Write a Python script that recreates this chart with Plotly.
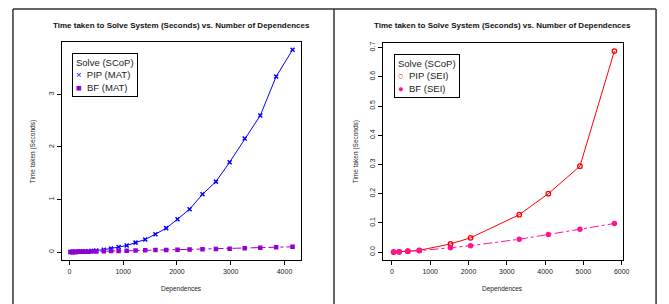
import plotly.graph_objects as go

# ---- data ----
mat_deps = [20, 45, 70, 100, 130, 165, 205, 250, 300, 350, 410, 500, 640, 775, 915,
            1065, 1230, 1410, 1600, 1800, 2010, 2235, 2475, 2725, 2980, 3260, 3550, 3845, 4150]
pip_mat = [0.001, 0.002, 0.003, 0.004, 0.005, 0.007, 0.009, 0.011, 0.014, 0.017, 0.022, 0.03,
           0.045, 0.065, 0.095, 0.125, 0.18, 0.24, 0.34, 0.455, 0.625, 0.815, 1.10, 1.34, 1.71,
           2.16, 2.60, 3.34, 3.85]
bf_mat = [0.0005, 0.001, 0.0017, 0.0024, 0.003, 0.004, 0.005, 0.006, 0.007, 0.008, 0.01, 0.012,
          0.015, 0.018, 0.021, 0.025, 0.029, 0.033, 0.037, 0.041, 0.046, 0.05, 0.055, 0.06, 0.065,
          0.072, 0.08, 0.092, 0.10]

sei_deps = [45, 190, 415, 715, 1530, 2055, 3325, 4085, 4910, 5810]
pip_sei = [0.0, 0.001, 0.003, 0.006, 0.028, 0.049, 0.128, 0.200, 0.294, 0.688]
bf_sei = [0.0, 0.001, 0.003, 0.005, 0.015, 0.022, 0.044, 0.060, 0.078, 0.098]

x_ticks_mat = [0, 1000, 2000, 3000, 4000]
y_ticks_mat = [0, 1, 2, 3]
x_ticks_sei = [0, 1000, 2000, 3000, 4000, 5000, 6000]
y_ticks_sei = [0.0, 0.1, 0.2, 0.3, 0.4, 0.5, 0.6, 0.7]
y_ticktext_sei = ["0.0", "0.1", "0.2", "0.3", "0.4", "0.5", "0.6", "0.7"]

title_text = "Time taken to Solve System (Seconds) vs. Number of Dependences"
legend_title = "Solve (SCoP)"

C_PIP_MAT = "#0000FF"
C_BF_MAT = "#9400D3"
C_PIP_SEI = "#FF0000"
C_BF_SEI = "#FF1493"

OFF = 8  # page body margin
W, H = 669 - OFF, 304 - OFF
FONT = "Liberation Sans, Arial, Helvetica, sans-serif"

fig = go.Figure()
fig.add_trace(go.Scatter(x=mat_deps, y=pip_mat, name="PIP (MAT)", mode="lines+markers",
                         line=dict(color=C_PIP_MAT, width=1),
                         marker=dict(symbol="x-thin-open", size=4, line=dict(color=C_PIP_MAT, width=1.5)),
                         xaxis="x", yaxis="y"))
fig.add_trace(go.Scatter(x=mat_deps, y=bf_mat, name="BF (MAT)", mode="lines+markers",
                         line=dict(color=C_BF_MAT, width=1, dash="dashdot"),
                         marker=dict(symbol="square", size=4.5, color=C_BF_MAT),
                         xaxis="x", yaxis="y"))
fig.add_trace(go.Scatter(x=sei_deps, y=pip_sei, name="PIP (SEI)", mode="lines+markers",
                         line=dict(color=C_PIP_SEI, width=1),
                         marker=dict(symbol="circle-open", size=4.5, line=dict(color=C_PIP_SEI, width=1.3)),
                         xaxis="x2", yaxis="y2"))
fig.add_trace(go.Scatter(x=sei_deps, y=bf_sei, name="BF (SEI)", mode="lines+markers",
                         line=dict(color=C_BF_SEI, width=1, dash="dashdot"),
                         marker=dict(symbol="circle", size=5.5, color=C_BF_SEI),
                         xaxis="x2", yaxis="y2"))


def px(x):
    return (x - OFF) / W


def py(y):
    return 1 - (y - OFF) / H


axis_common = dict(showline=True, mirror=True, linecolor="black", linewidth=1,
                   ticks="outside", ticklen=4, tickcolor="black", tickwidth=1,
                   showgrid=False, zeroline=False,
                   tickfont=dict(size=7, color="#222", family=FONT))

fig.update_layout(
    width=W, height=H, margin=dict(l=0, r=0, t=0, b=0),
    paper_bgcolor="white", plot_bgcolor="white",
    font=dict(family=FONT),
    showlegend=False,
    xaxis=dict(domain=[px(62), px(304)], range=[-147, 4313], tickvals=x_ticks_mat,
               anchor="y", **axis_common),
    yaxis=dict(domain=[py(260), py(41)], range=[-0.154, 4.0], tickvals=y_ticks_mat,
               tickangle=-90, anchor="x", **axis_common),
    xaxis2=dict(domain=[px(386), px(629)], range=[-244, 6044], tickvals=x_ticks_sei,
                anchor="y2", **axis_common),
    yaxis2=dict(domain=[py(260), py(42)], range=[-0.0275, 0.716], tickvals=y_ticks_sei,
                ticktext=y_ticktext_sei, tickangle=-90, anchor="x2", **axis_common),
)

annotations = []
for cx, ylab_x in [((62 + 304) / 2, 33), ((386 + 629) / 2, 359)]:
    annotations.append(dict(text="<b>" + title_text + "</b>", x=px(cx), y=py(25),
                            xref="paper", yref="paper", showarrow=False,
                            xanchor="center", yanchor="middle",
                            font=dict(size=8, color="#111", family=FONT)))
    annotations.append(dict(text="Dependences", x=px(cx), y=py(289),
                            xref="paper", yref="paper", showarrow=False,
                            xanchor="center", yanchor="middle",
                            font=dict(size=6.5, color="#222", family=FONT)))
    annotations.append(dict(text="Time taken (Seconds)", x=px(ylab_x), y=py(151),
                            xref="paper", yref="paper", showarrow=False, textangle=-90,
                            xanchor="center", yanchor="middle",
                            font=dict(size=6.5, color="#222", family=FONT)))

# legends (R style: symbol then label, boxed)
legends = [
    (73, 52, [("×", C_PIP_MAT, "PIP (MAT)"), ("■", C_BF_MAT, "BF (MAT)")]),
    (398, 53, [("○", C_PIP_SEI, "PIP (SEI)"), ("●", C_BF_SEI, "BF (SEI)")]),
]
for lx, ly, items in legends:
    lines = [legend_title]
    for sym, col, lab in items:
        lines.append(f"<span style='color:{col}'>{sym}</span>  {lab}")
    annotations.append(dict(text="<br>".join(lines), x=px(lx), y=py(ly),
                            xref="paper", yref="paper", showarrow=False,
                            xanchor="left", yanchor="top", align="left",
                            bordercolor="black", borderwidth=1, borderpad=3,
                            bgcolor="white",
                            font=dict(size=9.5, color="#222", family=FONT)))
fig.update_layout(annotations=annotations)

# panel borders
border = dict(color="#333", width=1.5)
shapes = [
    dict(type="line", xref="paper", yref="paper", x0=px(13), x1=px(662), y0=py(8), y1=py(8), line=border),
    dict(type="line", xref="paper", yref="paper", x0=px(13), x1=px(13), y0=py(8), y1=py(310), line=border),
    dict(type="line", xref="paper", yref="paper", x0=px(337), x1=px(337), y0=py(8), y1=py(310), line=border),
    dict(type="line", xref="paper", yref="paper", x0=px(662), x1=px(662), y0=py(8), y1=py(310), line=border),
]
fig.update_layout(shapes=shapes)

fig.write_html("out.html")
